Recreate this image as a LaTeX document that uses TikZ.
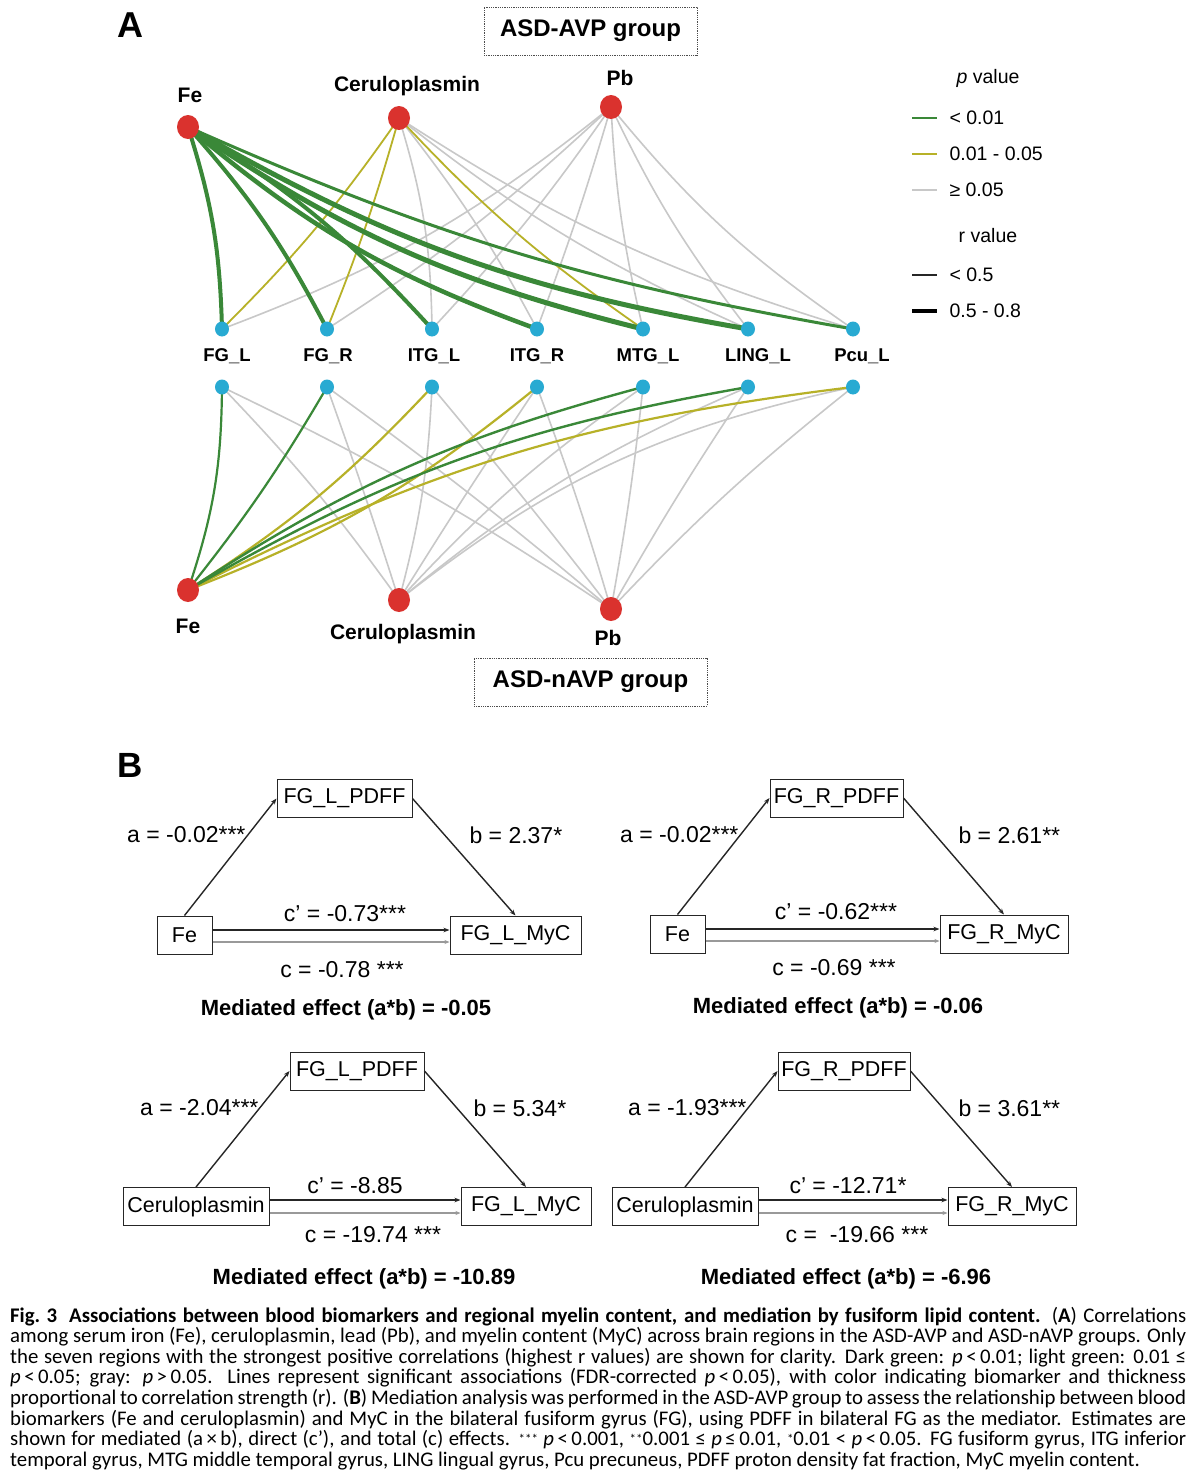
\documentclass[tikz,border=0pt]{standalone}
\usepackage{fontspec}
\setmainfont{Liberation Sans}
\newfontfamily\capfont{Carlito}
\usetikzlibrary{shapes.geometric,arrows.meta,calc}
\definecolor{mygreen}{RGB}{58,136,56}
\definecolor{myyellow}{RGB}{183,177,40}
\definecolor{mygray}{RGB}{200,200,200}
\definecolor{myred}{RGB}{218,50,46}
\definecolor{myblue}{RGB}{40,170,210}
\newcommand\myfs[1]{\fontsize{#1}{#1}\selectfont}
\newcommand\mysup[1]{\raisebox{2pt}{\myfs{13}#1}}
\pgfdeclarelayer{bg}\pgfsetlayers{bg,main}
\tikzset{
  rednode/.style={ellipse, fill=myred, minimum width=22pt, minimum height=24pt, inner sep=0pt},
  bluenode/.style={ellipse, fill=myblue, minimum width=14pt, minimum height=15pt, inner sep=0pt},
  toplbl/.style={font=\myfs{21}\bfseries},
  reglbl/.style={font=\myfs{18.5}\bfseries},
  grpbox/.style={draw=black!70, densely dotted, line width=0.8pt, minimum height=48pt, font=\myfs{24}\bfseries},
  gE/.style={draw=mygreen, line width=#1},
  yE/.style={draw=myyellow, line width=#1},
  kE/.style={draw=mygray, line width=1.6pt},
  legtxt/.style={anchor=west, font=\myfs{19.5}},
  medbox/.style={draw=black!85, line width=1pt, minimum height=38pt, inner sep=0pt, font=\myfs{21.5}},
  medarr/.style={draw=black!85, line width=1.4pt, -{Stealth[length=6pt,width=4.5pt]}},
  totarr/.style={draw=black!40, line width=2pt, -{Stealth[length=5pt,width=4pt]}},
  coef/.style={font=\myfs{23}},
  medtxt/.style={font=\myfs{22}\bfseries},
  capline/.style={anchor=base west, inner sep=0pt, font=\capfont\myfs{20.8}},
}
\begin{document}
\begin{tikzpicture}[x=1pt,y=1pt]
\useasboundingbox (0,0) rectangle (1200,-1481);
\begin{pgfonlayer}{bg}
\fill[white] (0,0) rectangle (1200,-1481);
\end{pgfonlayer}

% ---------------- Panel A ----------------
\node[font=\myfs{36}\bfseries] (labA) at (130,-25) {A};
\node[grpbox, minimum width=213pt] (g1) at (590.5,-31) {ASD-AVP group};
\node[grpbox, minimum width=233pt] (g2) at (590.5,-682) {ASD-nAVP group};

% top red nodes
\node[rednode] (fe1) at (188,-127) {};
\node[rednode] (cer1) at (399,-118) {};
\node[rednode] (pb1) at (611,-107) {};
\node[toplbl] (tfe1) at (190,-95) {Fe};
\node[toplbl] (tcer1) at (407,-86) {Ceruloplasmin};
\node[toplbl] (tpb1) at (620,-78) {Pb};

% blue nodes
\foreach \n/\x in {fgl/222,fgr/327,itgl/432,itgr/537,mtgl/643,lingl/748,pcul/853}{
  \node[bluenode] (\n1) at (\x,-329) {};
  \node[bluenode] (\n2) at (\x,-387) {};
}
\node[reglbl] (tfgl) at (227,-356) {FG\_L};
\node[reglbl] (tfgr) at (328,-356) {FG\_R};
\node[reglbl] (titgl) at (434,-356) {ITG\_L};
\node[reglbl] (titgr) at (537,-356) {ITG\_R};
\node[reglbl] (tmtgl) at (648,-356) {MTG\_L};
\node[reglbl] (tlingl) at (758,-356) {LING\_L};
\node[reglbl] (tpcul) at (862,-356) {Pcu\_L};

% bottom red nodes
\node[rednode] (fe2) at (188,-590) {};
\node[rednode] (cer2) at (399,-600) {};
\node[rednode] (pb2) at (611,-609) {};
\node[toplbl] (tfe2) at (188,-626) {Fe};
\node[toplbl] (tcer2) at (403,-634) {Ceruloplasmin};
\node[toplbl] (tpb2) at (608,-638) {Pb};

\begin{pgfonlayer}{bg}
% top graph: Pb
\draw[kE] (pb1.center) to[bend left=9] (fgl1.center);
\draw[kE] (pb1.center) to[bend left=5] (fgr1.center);
\draw[kE] (pb1.center) to[bend left=4] (itgl1.center);
\draw[kE] (pb1.center) to[bend left=2] (itgr1.center);
\draw[kE] (pb1.center) to[bend right=5] (mtgl1.center);
\draw[kE] (pb1.center) to[bend right=6] (lingl1.center);
\draw[kE] (pb1.center) to[bend right=8] (pcul1.center);
% top graph: Ceruloplasmin
\draw[kE] (cer1.center) to[bend left=8] (itgl1.center);
\draw[kE] (cer1.center) to[bend left=5] (itgr1.center);
\draw[kE] (cer1.center) to[bend right=7] (lingl1.center);
\draw[kE] (cer1.center) to[bend right=8] (pcul1.center);
\draw[yE=1.8pt] (cer1.center) to[bend left=5] (fgl1.center);
\draw[yE=1.8pt] (cer1.center) to[bend left=3] (fgr1.center);
\draw[yE=1.8pt] (cer1.center) to[bend right=6] (mtgl1.center);
% top graph: Fe
\draw[gE=4pt] (fe1.center) to[bend left=8] (fgl1.center);
\draw[gE=4pt] (fe1.center) to[bend left=7] (fgr1.center);
\draw[gE=4pt] (fe1.center) to[bend left=8] (itgl1.center);
\draw[gE=4.5pt] (fe1.center) to[bend right=10] (itgr1.center);
\draw[gE=5pt] (fe1.center) to[bend right=10] (mtgl1.center);
\draw[gE=5pt] (fe1.center) to[bend right=10] (lingl1.center);
\draw[gE=3pt] (fe1.center) to[bend right=7] (pcul1.center);

% bottom graph: Pb
\draw[kE] (pb2.center) to[bend right=4] (fgl2.center);
\draw[kE] (pb2.center) to[bend right=2] (fgr2.center);
\draw[kE] (pb2.center) to[bend right=1] (itgl2.center);
\draw[kE] (pb2.center) to[bend right=2] (itgr2.center);
\draw[kE] (pb2.center) to[bend right=2] (mtgl2.center);
\draw[kE] (pb2.center) to[bend left=2] (lingl2.center);
\draw[kE] (pb2.center) to[bend left=4] (pcul2.center);
% bottom graph: Ceruloplasmin
\draw[kE] (cer2.center) to[bend right=4] (fgl2.center);
\draw[kE] (cer2.center) to[bend right=1] (fgr2.center);
\draw[kE] (cer2.center) to[bend right=6] (itgl2.center);
\draw[kE] (cer2.center) to[bend left=1] (itgr2.center);
\draw[kE] (cer2.center) to[bend left=6] (mtgl2.center);
\draw[kE] (cer2.center) to[bend left=8] (lingl2.center);
\draw[kE] (cer2.center) to[bend left=13] (pcul2.center);
% bottom graph: Fe
\draw[yE=2.2pt] (fe2.center) to[bend right=7] (itgl2.center);
\draw[yE=2.2pt] (fe2.center) to[bend right=9] (itgr2.center);
\draw[yE=2.2pt] (fe2.center) to[bend left=10] (pcul2.center);
\draw[gE=2.2pt] (fe2.center) to[bend right=9] (fgl2.center);
\draw[gE=2.2pt] (fe2.center) to[bend right=4] (fgr2.center);
\draw[gE=2.4pt] (fe2.center) to[bend left=9] (mtgl2.center);
\draw[gE=2.4pt] (fe2.center) to[bend left=10] (lingl2.center);
\end{pgfonlayer}

% legend
\node[font=\myfs{19.5}] (lp) at (988,-78) {\textit{p} value};
\coordinate (l1a) at (912,-118); \coordinate (l1b) at (937,-118);
\coordinate (l2a) at (912,-154); \coordinate (l2b) at (937,-154);
\coordinate (l3a) at (912,-190); \coordinate (l3b) at (937,-190);
\draw[mygreen, line width=1.8pt] (l1a) -- (l1b);
\draw[myyellow, line width=1.8pt] (l2a) -- (l2b);
\draw[mygray, line width=1.8pt] (l3a) -- (l3b);
\node[legtxt] (lt1) at (946,-118) {< 0.01};
\node[legtxt] (lt2) at (946,-154) {0.01 - 0.05};
\node[legtxt] (lt3) at (946,-190) {≥ 0.05};
\node[font=\myfs{19.5}] (lr) at (988,-236) {r value};
\coordinate (l4a) at (912,-275); \coordinate (l4b) at (937,-275);
\coordinate (l5a) at (912,-311); \coordinate (l5b) at (937,-311);
\draw[black!85, line width=1.8pt] (l4a) -- (l4b);
\draw[black, line width=4.5pt] (l5a) -- (l5b);
\node[legtxt] (lt4) at (946,-275) {< 0.5};
\node[legtxt] (lt5) at (946,-311) {0.5 - 0.8};

% ---------------- Panel B ----------------
\node[font=\myfs{35}\bfseries] (labB) at (130,-765) {B};

% panel 1
\node[medbox, minimum width=135pt] (p1m) at (344.5,-798.5) {FG\_L\_PDFF};
\node[medbox, minimum width=55pt] (p1x) at (184.5,-935) {Fe};
\node[medbox, minimum width=131pt] (p1y) at (515.5,-935) {FG\_L\_MyC};
\draw[medarr] (p1x.north) -- (p1m.west);
\draw[medarr] (p1m.east) -- (p1y.north);
\draw[medarr] ([yshift=5pt]p1x.east) -- ([yshift=5pt]p1y.west);
\draw[totarr] ([yshift=-7pt]p1x.east) -- ([yshift=-7pt]p1y.west);
\node[coef, anchor=east] (p1a) at (249,-835) {a = -0.02***};
\node[coef, anchor=west] (p1b) at (466,-835) {b = 2.37*};
\node[coef] (p1cp) at (345,-914) {c’ = -0.73***};
\node[coef] (p1c) at (342,-970) {c = -0.78 ***};
\node[medtxt] (p1e) at (346,-1010) {Mediated effect (a*b) = -0.05};

% panel 2
\node[medbox, minimum width=133pt] (p2m) at (836.5,-798) {FG\_R\_PDFF};
\node[medbox, minimum width=55pt] (p2x) at (677.5,-934) {Fe};
\node[medbox, minimum width=128pt] (p2y) at (1004,-934) {FG\_R\_MyC};
\draw[medarr] (p2x.north) -- (p2m.west);
\draw[medarr] (p2m.east) -- (p2y.north);
\draw[medarr] ([yshift=5pt]p2x.east) -- ([yshift=5pt]p2y.west);
\draw[totarr] ([yshift=-7pt]p2x.east) -- ([yshift=-7pt]p2y.west);
\node[coef, anchor=east] (p2a) at (742,-835) {a = -0.02***};
\node[coef, anchor=west] (p2b) at (955,-835) {b = 2.61**};
\node[coef] (p2cp) at (836,-912) {c’ = -0.62***};
\node[coef] (p2c) at (834,-968) {c = -0.69 ***};
\node[medtxt] (p2e) at (838,-1008) {Mediated effect (a*b) = -0.06};

% panel 3
\node[medbox, minimum width=134pt] (p3m) at (357,-1071) {FG\_L\_PDFF};
\node[medbox, minimum width=146pt] (p3x) at (196,-1206.5) {Ceruloplasmin};
\node[medbox, minimum width=130pt] (p3y) at (526,-1206.5) {FG\_L\_MyC};
\draw[medarr] (p3x.north) -- (p3m.west);
\draw[medarr] (p3m.east) -- (p3y.north);
\draw[medarr] ([yshift=6.5pt]p3x.east) -- ([yshift=6.5pt]p3y.west);
\draw[totarr] ([yshift=-6.5pt]p3x.east) -- ([yshift=-6.5pt]p3y.west);
\node[coef, anchor=east] (p3a) at (262,-1108) {a = -2.04***};
\node[coef, anchor=west] (p3b) at (470,-1108) {b = 5.34*};
\node[coef] (p3cp) at (355,-1186) {c’ = -8.85};
\node[coef] (p3c) at (373,-1235) {c = -19.74 ***};
\node[medtxt] (p3e) at (364,-1279) {Mediated effect (a*b) = -10.89};

% panel 4
\node[medbox, minimum width=132pt] (p4m) at (844,-1071) {FG\_R\_PDFF};
\node[medbox, minimum width=146pt] (p4x) at (685,-1206.5) {Ceruloplasmin};
\node[medbox, minimum width=128pt] (p4y) at (1012,-1206.5) {FG\_R\_MyC};
\draw[medarr] (p4x.north) -- (p4m.west);
\draw[medarr] (p4m.east) -- (p4y.north);
\draw[medarr] ([yshift=6.5pt]p4x.east) -- ([yshift=6.5pt]p4y.west);
\draw[totarr] ([yshift=-6.5pt]p4x.east) -- ([yshift=-6.5pt]p4y.west);
\node[coef, anchor=east] (p4a) at (750,-1108) {a = -1.93***};
\node[coef, anchor=west] (p4b) at (955,-1108) {b = 3.61**};
\node[coef] (p4cp) at (848,-1186) {c’ = -12.71*};
\node[coef] (p4c) at (857,-1235) {c = \ -19.66 ***};
\node[medtxt] (p4e) at (846,-1279) {Mediated effect (a*b) = -6.96};

% ---------------- Caption ----------------
\node[capline] (cap1) at (10,-1322) {\makebox[1176pt][s]{\textbf{Fig.\ 3}\hspace{12pt}\textbf{Associations between blood biomarkers and regional myelin content, and mediation by fusiform lipid content.} (\textbf{A}) Correlations}};
\node[capline] (cap2) at (10,-1342.6) {\makebox[1176pt][s]{among serum iron (Fe), ceruloplasmin, lead (Pb), and myelin content (MyC) across brain regions in the ASD-AVP and ASD-nAVP groups. Only}};
\node[capline] (cap3) at (10,-1363.2) {\makebox[1176pt][s]{the seven regions with the strongest positive correlations (highest r values) are shown for clarity. Dark green: \textit{p}\,<\,0.01; light green: 0.01 ≤}};
\node[capline] (cap4) at (10,-1383.8) {\makebox[1176pt][s]{\textit{p}\,<\,0.05; gray: \textit{p}\,>\,0.05. Lines represent significant associations (FDR-corrected \textit{p}\,<\,0.05), with color indicating biomarker and thickness}};
\node[capline] (cap5) at (10,-1404.4) {\makebox[1176pt][s]{proportional to correlation strength (r). (\textbf{B}) Mediation analysis was performed in the ASD-AVP group to assess the relationship between blood}};
\node[capline] (cap6) at (10,-1425) {\makebox[1176pt][s]{biomarkers (Fe and ceruloplasmin) and MyC in the bilateral fusiform gyrus (FG), using PDFF in bilateral FG as the mediator. Estimates are}};
\node[capline] (cap7) at (10,-1445.6) {\makebox[1176pt][s]{shown for mediated (a\,×\,b), direct (c’), and total (c) effects. \mysup{***} \textit{p}\,<\,0.001, \mysup{**}0.001 ≤ \textit{p}\,≤\,0.01, \mysup{*}0.01 < \textit{p}\,<\,0.05. FG fusiform gyrus, ITG inferior}};
\node[capline] (cap8) at (10,-1466.2) {temporal gyrus, MTG middle temporal gyrus, LING lingual gyrus, Pcu precuneus, PDFF proton density fat fraction, MyC myelin content.};
\end{tikzpicture}
\end{document}
